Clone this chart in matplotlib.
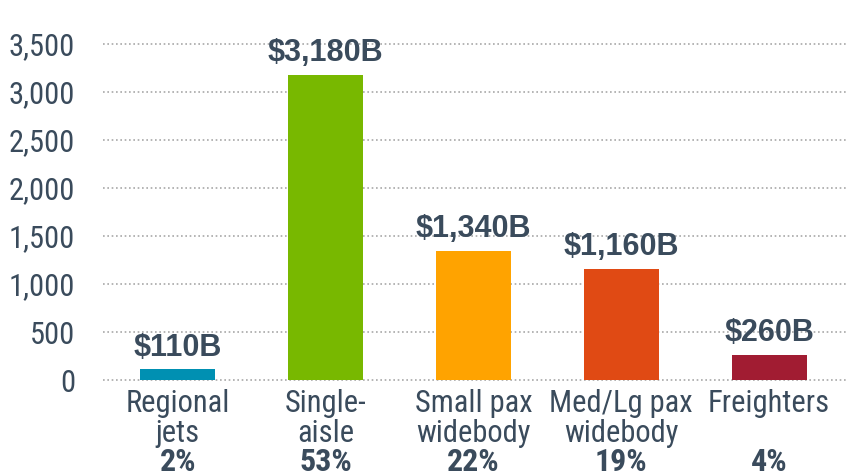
import matplotlib
matplotlib.use("Agg")
import matplotlib.pyplot as plt
from matplotlib import font_manager as fm

categories_line1 = ["Regional", "Single-", "Small pax", "Med/Lg pax", "Freighters"]
categories_line2 = ["jets", "aisle", "widebody", "widebody", ""]
values = [110, 3180, 1340, 1160, 260]
value_labels = ["$110B", "$3,180B", "$1,340B", "$1,160B", "$260B"]
shares = ["2%", "53%", "22%", "19%", "4%"]
colors = ["#0090b2", "#78b800", "#ffa300", "#e04a14", "#a11c32"]
yticks = [0, 500, 1000, 1500, 2000, 2500, 3000, 3500]


def _w(w):
    if isinstance(w, str):
        return {"normal": 400, "regular": 400, "bold": 700}.get(w, 400)
    return int(w)


def pick_narrow():
    cands = ["Liberation Sans Narrow", "Arial Narrow", "Roboto Condensed",
             "Open Sans Condensed", "Archivo Narrow", "Barlow Semi Condensed",
             "Asap Condensed", "Barlow Condensed"]
    for name in cands:
        ws = {_w(f.weight) for f in fm.fontManager.ttflist if f.name == name and f.style == "normal"}
        if 400 in ws and 700 in ws:
            return name
    return "Liberation Sans"


narrow = pick_narrow()
TXT = "#3a4b5c"

fig = plt.figure(figsize=(8.46, 4.76), dpi=100)
ax = fig.add_axes([103/846, 1-380/476, 1-103/846, (380-44)/476])

x = list(range(len(values)))
ax.bar(x, values, width=0.507, color=colors, zorder=3)
ax.set_xlim(-0.505, 4.52)
ax.set_ylim(0, 3500)

for y in yticks:
    ax.axhline(y, color="#a8a8a8", lw=1.2, ls=(0, (1, 1.6)), zorder=1, clip_on=False)

ax.set_yticks(yticks)
ax.set_yticklabels([f"{v:,}" for v in yticks], fontfamily=narrow, fontsize=22, color=TXT)
ax.tick_params(axis="y", length=0, pad=20)
ax.set_xticks([])
for s in ax.spines.values():
    s.set_visible(False)

for i, (v, lab) in enumerate(zip(values, value_labels)):
    ax.annotate(lab, xy=(i, v), xytext=(0, 10), textcoords="offset points",
                ha="center", va="baseline", fontsize=22, fontweight="bold",
                fontfamily="Liberation Sans", color=TXT)

tr = ("data", "axes fraction")
for i in x:
    ax.annotate(categories_line1[i], xy=(i, 0), xycoords=tr, xytext=(0, -32*0.72), textcoords="offset points",
                ha="center", va="baseline", fontsize=22, fontfamily=narrow, color=TXT)
    ax.annotate(categories_line2[i], xy=(i, 0), xycoords=tr, xytext=(0, -62*0.72), textcoords="offset points",
                ha="center", va="baseline", fontsize=22, fontfamily=narrow, color=TXT)
    ax.annotate(shares[i], xy=(i, 0), xycoords=tr, xytext=(0, -91*0.72), textcoords="offset points",
                ha="center", va="baseline", fontsize=23, fontweight="bold", fontfamily=narrow, color=TXT)

fig.savefig("out.png", dpi=100)
